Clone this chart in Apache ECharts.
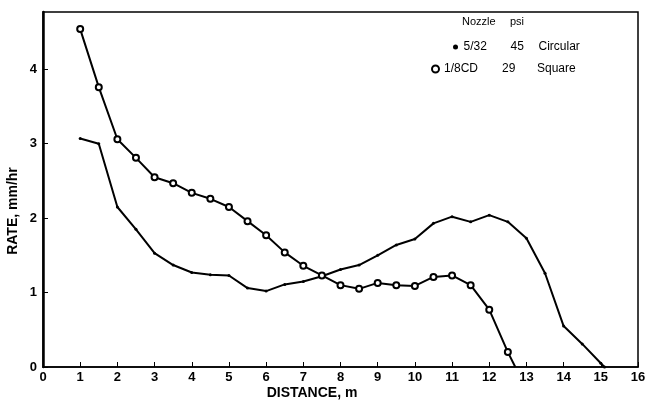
<!DOCTYPE html>
<html><head><meta charset="utf-8">
<script src="https://cdn.jsdelivr.net/npm/echarts@6/dist/echarts.min.js"></script>
<style>html,body{margin:0;padding:0;background:#fff}#c{width:656px;height:406px}</style>
</head><body><div id="c"></div>
<script>
var xTicks = [0,1,2,3,4,5,6,7,8,9,10,11,12,13,14,15,16];
var yTicks = [0,1,2,3,4];
var legendHeader = ['Nozzle', 'psi'];
var circularName = '5/32   45   Circular';
var circularCols = ['5/32', '45', 'Circular'];
var circularX = [1,1.5,2,2.5,3,3.5,4,4.5,5,5.5,6,6.5,7,7.5,8,8.5,9,9.5,10,10.5,11,11.5,12,12.5,13,13.5,14,14.5,15,15.1];
var circularY = [3.07,3.00,2.15,1.85,1.53,1.37,1.27,1.24,1.23,1.06,1.02,1.11,1.15,1.22,1.31,1.37,1.50,1.64,1.72,1.93,2.02,1.95,2.04,1.95,1.73,1.26,0.55,0.31,0.05,0];
var squareName = '1/8CD   29   Square';
var squareCols = ['1/8CD', '29', 'Square'];
var squareX = [1,1.5,2,2.5,3,3.5,4,4.5,5,5.5,6,6.5,7,7.5,8,8.5,9,9.5,10,10.5,11,11.5,12,12.5,12.7];
var squareY = [4.54,3.76,3.06,2.81,2.55,2.47,2.34,2.26,2.15,1.96,1.77,1.54,1.36,1.23,1.10,1.05,1.13,1.10,1.09,1.21,1.23,1.10,0.77,0.20,0];

function pairs(xs, ys){ return xs.map(function(x,i){ return [x, ys[i]]; }); }
var font = 'Liberation Sans';
var txt = {fontFamily:font,fontSize:12,color:'#000'};
function rich(w1,w2){
  return {a:Object.assign({width:w1},txt), b:Object.assign({width:w2},txt), c:txt};
}
var chart = echarts.init(document.getElementById('c'), null, {renderer:'canvas'});
chart.setOption({
  animation:false,
  backgroundColor:'#fff',
  grid:{left:43,right:18,top:12,bottom:39,show:true,borderColor:'#000',borderWidth:1.5},
  legend:[
    {left:448, top:36, itemWidth:6, itemHeight:5, itemGap:0,
     textStyle:Object.assign({rich:rich(47,28)},txt),
     formatter:function(){return '{a|'+circularCols[0]+'}{b|'+circularCols[1]+'}{c|'+circularCols[2]+'}';},
     data:[{name:circularName, icon:'circle', itemStyle:{color:'#000'}}]},
    {left:426, top:58, itemWidth:7, itemHeight:7, itemGap:0,
     textStyle:Object.assign({rich:rich(58,35)},txt),
     formatter:function(){return '{a|'+squareCols[0]+'}{b|'+squareCols[1]+'}{c|'+squareCols[2]+'}';},
     data:[{name:squareName, icon:'emptyCircle', itemStyle:{color:'#000',borderColor:'#000',borderWidth:1}}]}
  ],
  graphic:[
    {type:'text',left:462,top:16,style:{text:legendHeader[0],fontFamily:font,fontSize:11,fill:'#000'}},
    {type:'text',left:510,top:16,style:{text:legendHeader[1],fontFamily:font,fontSize:11,fill:'#000'}},
    {type:'text',x:13,y:211,rotation:Math.PI/2,style:{text:'RATE, mm/hr',fontFamily:font,fontSize:14,fontWeight:'bold',fill:'#000',align:'center',verticalAlign:'middle'}},
    {type:'text',x:312,y:393,style:{text:'DISTANCE, m',fontFamily:font,fontSize:14,fontWeight:'bold',fill:'#000',align:'center',verticalAlign:'middle'}}
  ],
  xAxis:{
    type:'value', min:0, max:16, interval:1,
    axisLine:{show:true,onZero:false,lineStyle:{color:'#000',width:1.5}},
    axisTick:{show:true,inside:true,length:5,lineStyle:{color:'#000'}},
    axisLabel:{fontFamily:font,fontSize:13,fontWeight:'bold',color:'#000',margin:4},
    splitLine:{show:false}
  },
  yAxis:{
    type:'value', min:0, max:4.77, interval:1,
    axisLine:{show:true,lineStyle:{color:'#000',width:2.5}},
    axisTick:{show:true,inside:true,length:5,customValues:yTicks,lineStyle:{color:'#000'}},
    axisLabel:{fontFamily:font,fontSize:13,fontWeight:'bold',color:'#000',margin:6,customValues:yTicks,
      formatter:function(v){return (Math.abs(v-Math.round(v))<1e-6)?String(Math.round(v)):'';}},
    splitLine:{show:false}
  },
  series:[
    {name:circularName,type:'line',data:pairs(circularX,circularY),
     symbol:'circle',symbolSize:3,itemStyle:{color:'#000'},lineStyle:{color:'#000',width:2}},
    {name:squareName,type:'line',data:pairs(squareX,squareY),
     symbol:function(v,p){return p.dataIndex===squareX.length-1?'none':'emptyCircle';},
     symbolSize:6,itemStyle:{color:'#000',borderColor:'#000',borderWidth:1.2},lineStyle:{color:'#000',width:2}}
  ]
});
</script></body></html>
